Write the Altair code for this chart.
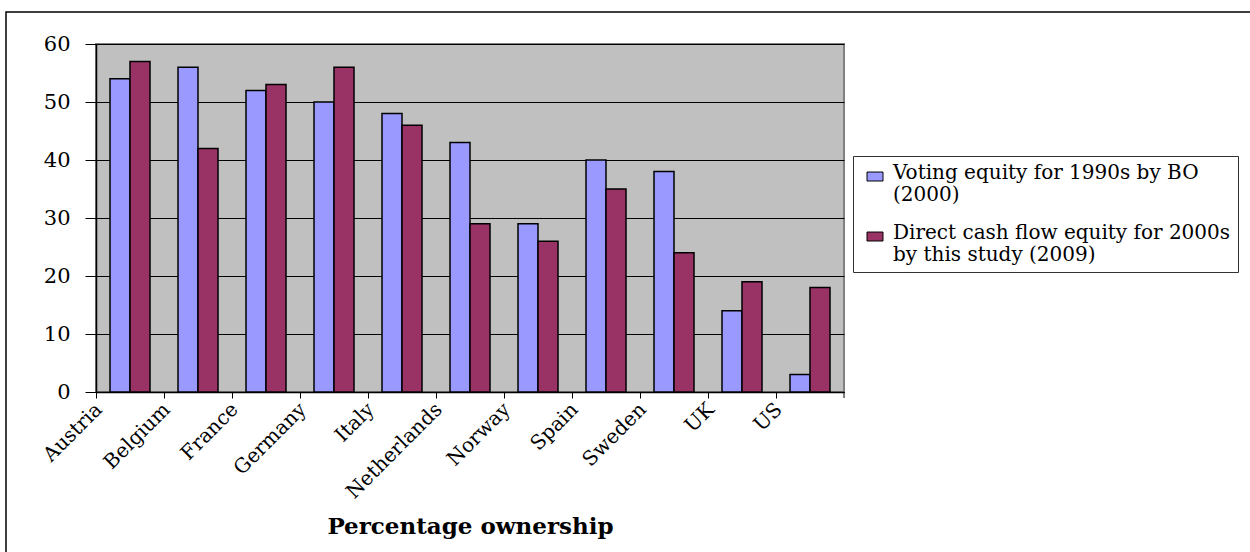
import altair as alt
import pandas as pd

# Ownership concentration by country (percent)
countries = ["Austria", "Belgium", "France", "Germany", "Italy", "Netherlands",
             "Norway", "Spain", "Sweden", "UK", "US"]
voting_1990s = [54, 56, 52, 50, 48, 43, 29, 40, 38, 14, 3]
cashflow_2000s = [57, 42, 53, 56, 46, 29, 26, 35, 24, 19, 18]

series_keys = ["voting", "cashflow"]
series_lines = [
    ["Voting equity for 1990s by BO", "(2000)"],
    ["Direct cash flow equity for 2000s", "by this study (2009)"],
]
series_colors = ["#9999FF", "#993366"]
y_ticks = [0, 10, 20, 30, 40, 50, 60]

rows = []
for key, vals in zip(series_keys, [voting_1990s, cashflow_2000s]):
    for c, v in zip(countries, vals):
        rows.append({"country": c, "series": key, "value": v})
df = pd.DataFrame(rows)

# two-line legend labels
label_expr = " : ".join(
    f"datum.value == '{k}' ? [{', '.join(repr(s) for s in lines)}]"
    for k, lines in zip(series_keys[:-1], series_lines[:-1])
) + " : [" + ", ".join(repr(s) for s in series_lines[-1]) + "]"

W, H = 748, 348
SERIF = "DejaVu Serif"

bars = alt.Chart(df).mark_bar(stroke="black", strokeWidth=1.5).encode(
    x=alt.X(
        "country:N",
        sort=countries,
        scale=alt.Scale(paddingInner=0, paddingOuter=0),
        axis=alt.Axis(
            title="Percentage ownership",
            titleFont=SERIF,
            titleFontSize=23,
            titleFontWeight="bold",
            titleColor="black",
            titleY=141,
            titleBaseline="alphabetic",
            bandPosition=0,
            labelAngle=315,
            labelAlign="right",
            labelBaseline="middle",
            labelFont=SERIF,
            labelFontSize=20,
            labelColor="black",
            labelPadding=8,
            labelOffset=-31,
            labelOverlap=False,
            labelFlush=False,
            tickSize=6,
            tickColor="black",
            domainColor="black",
            domainWidth=1.5,
            grid=False,
        ),
    ),
    xOffset=alt.XOffset(
        "series:N",
        sort=series_keys,
        scale=alt.Scale(paddingInner=0, paddingOuter=0.7),
    ),
    y=alt.Y(
        "value:Q",
        scale=alt.Scale(domain=[0, 60], nice=False),
        axis=alt.Axis(
            title=None,
            values=y_ticks,
            labelFont=SERIF,
            labelFontSize=21,
            labelColor="black",
            labelPadding=15,
            tickSize=11,
            tickColor="black",
            domainColor="black",
            domainWidth=1.5,
            grid=True,
            gridColor="black",
            gridWidth=1,
        ),
    ),
    color=alt.Color(
        "series:N",
        sort=series_keys,
        scale=alt.Scale(domain=series_keys, range=series_colors),
        legend=alt.Legend(
            title=None,
            orient="none",
            legendX=757,
            legendY=112,
            direction="vertical",
            strokeColor="#333333",
            fillColor="white",
            padding=7,
            labelExpr=label_expr,
            labelFont=SERIF,
            labelFontSize=20,
            labelColor="black",
            labelLimit=800,
            labelOffset=13,
            labelBaseline="middle",
            symbolType="M-0.375,-0.12H1.625V1.0H-0.375Z",
            symbolSize=256,
            symbolStrokeColor="black",
            symbolStrokeWidth=1,
            rowPadding=18,
        ),
    ),
)

# closing tick at the right end of the category axis
end_tick = alt.Chart(pd.DataFrame({"k": [0]})).mark_rule(
    color="black", strokeWidth=1
).encode(x=alt.value(W), y=alt.value(H), y2=alt.value(H + 6))

# outer frame around the whole figure
frame = alt.Chart(pd.DataFrame({"k": [0]})).mark_rect(
    fill="transparent", stroke="black", strokeWidth=1.5, clip=False
).encode(
    x=alt.value(-90), x2=alt.value(W + 430),
    y=alt.value(-32), y2=alt.value(H + 200),
)

chart = alt.layer(bars, end_tick, frame).properties(
    width=W,
    height=H,
    autosize=alt.AutoSizeParams(type="none"),
    padding={"left": 96, "top": 44, "right": 406, "bottom": 160},
    background="white",
).configure_view(
    fill="#C0C0C0", stroke="#808080", strokeWidth=2
)

chart.save("out.html", embed_options={"renderer": "svg", "actions": False})
